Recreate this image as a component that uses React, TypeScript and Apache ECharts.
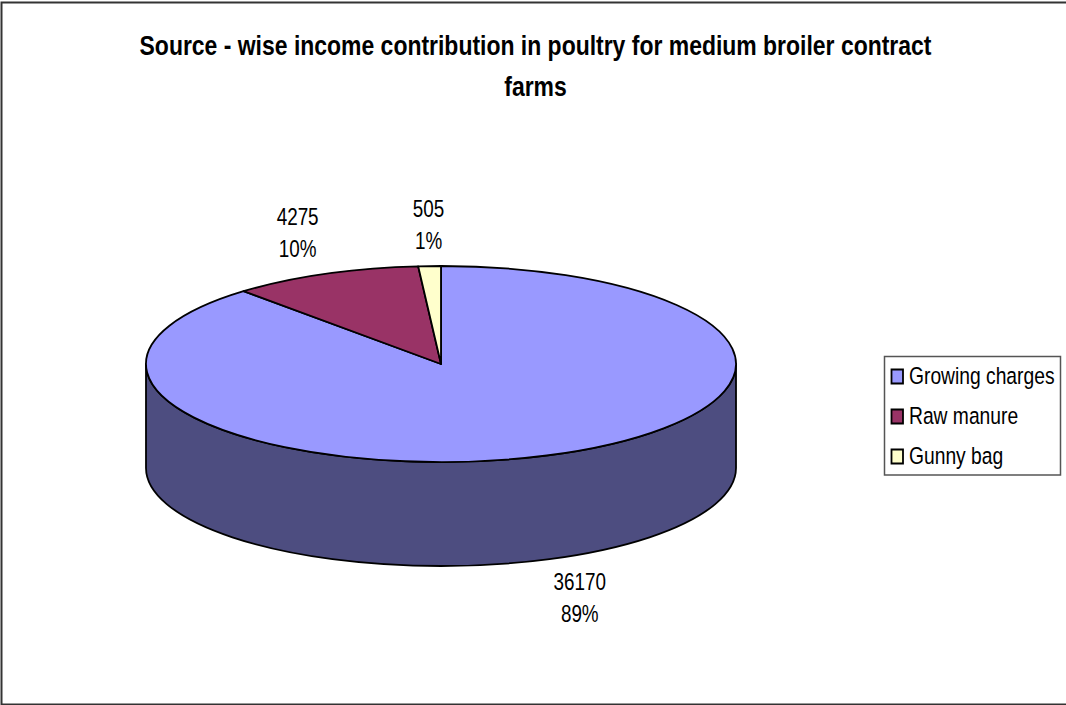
import React, { useEffect, useRef } from "react";
import * as echarts from "echarts";

const categories = ["Growing charges", "Raw manure", "Gunny bag"];
const amounts = [36170, 4275, 505];
const shareLabels = ["89%", "10%", "1%"];
const titleText =
  "Source - wise income contribution in poultry for medium broiler contract\nfarms";

const FONT = '"Liberation Sans", Arial, sans-serif';
// All text is set in a condensed cut of the sans face
const CONDENSE = 0.82;
const topColors = ["#9999FF", "#993366", "#FFFFCC"];
const SIDE_COLOR = "#4D4D80";

// Projection of the tilted disc
const CX = 441;
const CY = 364;
const RX = 295;
const RY = 98;
const DEPTH = 104;
// Label anchor relative to the rim point at a slice's middle angle
const labelNudge = [
  [33, 142],
  [-27, -41],
  [-1, -41],
];
// Key box
const KEY_LEFT = 884.5;
const KEY_TOP = 356.5;
const KEY_WIDTH = 176;
const KEY_HEIGHT = 118.5;
const KEY_ROW_FIRST = 376.5;
const KEY_ROW_PITCH = 40;

const total = amounts.reduce((a, b) => a + b, 0);
const rimPoint = (deg: number) => {
  const r = (deg * Math.PI) / 180;
  return [CX + RX * Math.sin(r), CY - RY * Math.cos(r)];
};

function makeRenderItem(index: number) {
  return (_params: any, api: any) => {
    const value = api.value(0);
    const before = amounts.slice(0, index).reduce((a, b) => a + b, 0);
    const start = (before / total) * 360;
    const end = ((before + value) / total) * 360;
    const mid = (start + end) / 2;
    const [sx, sy] = rimPoint(start);
    const [ex, ey] = rimPoint(end);
    const large = end - start > 180 ? 1 : 0;
    const stroke = { stroke: "#000", lineWidth: 1.8, lineJoin: "round" };

    const children: any[] = [];
    // The wall only shows along the near half of the rim
    const wallFrom = Math.max(start, 90);
    const wallTo = Math.min(end, 270);
    if (wallTo > wallFrom) {
      const [ax, ay] = rimPoint(wallFrom);
      const [bx, by] = rimPoint(wallTo);
      children.push({
        type: "path",
        shape: {
          pathData:
            `M${ax} ${ay} A${RX} ${RY} 0 0 1 ${bx} ${by} ` +
            `L${bx} ${by + DEPTH} A${RX} ${RY} 0 0 0 ${ax} ${ay + DEPTH} Z`,
        },
        style: { fill: SIDE_COLOR, ...stroke },
      });
    }
    children.push({
      type: "path",
      shape: {
        pathData: `M${CX} ${CY} L${sx} ${sy} A${RX} ${RY} 0 ${large} 1 ${ex} ${ey} Z`,
      },
      style: { fill: topColors[index], ...stroke },
    });
    const [lx, ly] = rimPoint(mid);
    children.push({
      type: "text",
      x: lx + labelNudge[index][0],
      y: ly + labelNudge[index][1],
      scaleX: CONDENSE,
      style: {
        text: `${value}\n${shareLabels[index]}`,
        align: "center",
        verticalAlign: "middle",
        fontFamily: FONT,
        fontSize: 23,
        lineHeight: 32,
        fill: "#000",
      },
    });
    return { type: "group", children };
  };
}

const keyElements = categories.flatMap((name, i) => {
  const rowY = KEY_ROW_FIRST + i * KEY_ROW_PITCH;
  return [
    {
      type: "rect",
      silent: true,
      shape: { x: 891.5, y: rowY - 7, width: 11.5, height: 14 },
      style: { fill: topColors[i], stroke: "#000", lineWidth: 1.8 },
    },
    {
      type: "text",
      silent: true,
      x: 909,
      y: rowY,
      scaleX: CONDENSE,
      style: {
        text: name,
        align: "left",
        verticalAlign: "middle",
        fontFamily: FONT,
        fontSize: 23.5,
        fill: "#000",
      },
    },
  ];
});

export default function App() {
  const ref = useRef<HTMLDivElement>(null);
  useEffect(() => {
    if (!ref.current) return;
    const chart = echarts.init(ref.current, undefined, { renderer: "svg" });
    chart.setOption({
      animation: false,
      backgroundColor: "#fff",
      graphic: [
        {
          type: "rect",
          silent: true,
          shape: { x: 1.5, y: 2.5, width: 1080, height: 702 },
          style: { fill: "none", stroke: "#333", lineWidth: 2 },
        },
        {
          type: "text",
          silent: true,
          x: 535.5,
          y: 66,
          scaleX: CONDENSE,
          style: {
            text: titleText,
            align: "center",
            verticalAlign: "middle",
            fontFamily: FONT,
            fontWeight: "bold",
            fontSize: 28,
            lineHeight: 41,
            fill: "#000",
          },
        },
        {
          type: "rect",
          silent: true,
          shape: { x: KEY_LEFT, y: KEY_TOP, width: KEY_WIDTH, height: KEY_HEIGHT },
          style: { fill: "#fff", stroke: "#555", lineWidth: 1.5 },
        },
        ...keyElements,
      ],
      series: categories.map((name, i) => ({
        type: "custom",
        name,
        coordinateSystem: "none",
        itemStyle: { color: topColors[i] },
        data: [amounts[i]],
        renderItem: makeRenderItem(i),
      })),
    });
    return () => chart.dispose();
  }, []);
  return (
    <div
      ref={ref}
      style={{ position: "fixed", left: 0, top: 0, width: 1066, height: 705 }}
    />
  );
}
